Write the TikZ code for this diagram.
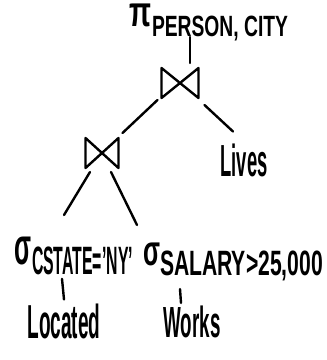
\documentclass[tikz,border=0pt]{standalone}
\usepackage{graphicx}
\usepackage{fontspec}
\setmainfont{Liberation Sans}
\usetikzlibrary{calc}
\newcommand{\fitto}[3]{\resizebox*{#1}{#2}{#3}}
\tikzset{
  lbl/.style={inner sep=0pt, outer sep=0pt, font=\bfseries},
  joinbox/.style={inner sep=0pt, outer sep=0pt, minimum width=#1, minimum height=30pt},
  edge/.style={line width=2.4pt, line cap=round, line join=round}
}
\begin{document}
\begin{tikzpicture}[x=1pt,y=-1pt]
\useasboundingbox[fill=white] (0,0) rectangle (327,360);
% projection
\node[lbl, anchor=north west] (pi) at (130,4)
  {\fitto{22pt}{23pt}{π}\raisebox{-10pt}{\fitto{136pt}{25pt}{PERSON, CITY}}};
% joins
\node[joinbox=37pt] (j1) at (180,83) {};
\node[joinbox=33pt] (j2) at (102,153) {};
\draw[edge] (j1.north west) -- (j1.south east) -- (j1.north east) -- (j1.south west) -- cycle;
\draw[edge] (j2.north west) -- (j2.south east) -- (j2.north east) -- (j2.south west) -- cycle;
% Lives
\node[lbl] (lives) at (244,160) {\fitto{47pt}{33pt}{Lives}};
% selections
\node[lbl, anchor=north west] (s1) at (15,237)
  {\fitto{17pt}{28pt}{σ}\raisebox{-10pt}{\fitto{101pt}{28pt}{CSTATE='NY'}}};
\node[lbl, anchor=north west] (s2) at (143,243)
  {\fitto{17pt}{23pt}{σ}\raisebox{-10pt}{\fitto{163pt}{30pt}{SALARY>25,000}}};
% leaves
\node[lbl] (loc) at (64,321) {\fitto{73pt}{35pt}{Located}};
\node[lbl] (works) at (192,322) {\fitto{57pt}{32pt}{Works}};
% edges
\draw[edge] ($(j1.north)+(10,-5)$) -- ($(j1.north)+(10,-31)$);
\draw[edge] ($(j1.south west)+(-4,2)$) -- ($(j2.north east)+(4,-5)$);
\draw[edge] ($(j1.south east)+(6,7)$) -- ($(lives.north)+(-11,-12)$);
\draw[edge] ($(j2.south)+(-12,4)$) -- ($(s1.north)+(-10,-22)$);
\draw[edge] ($(j2.south)+(9,4)$) -- ($(s2.north west)+(-6,-18)$);
\draw[edge] ($(s1.south)+(-12,4)$) -- ($(loc.north)+(0,-4)$);
\draw[edge] ($(s2.south west)+(37,8)$) -- ($(works.north)+(-11,-3)$);
\end{tikzpicture}
\end{document}
